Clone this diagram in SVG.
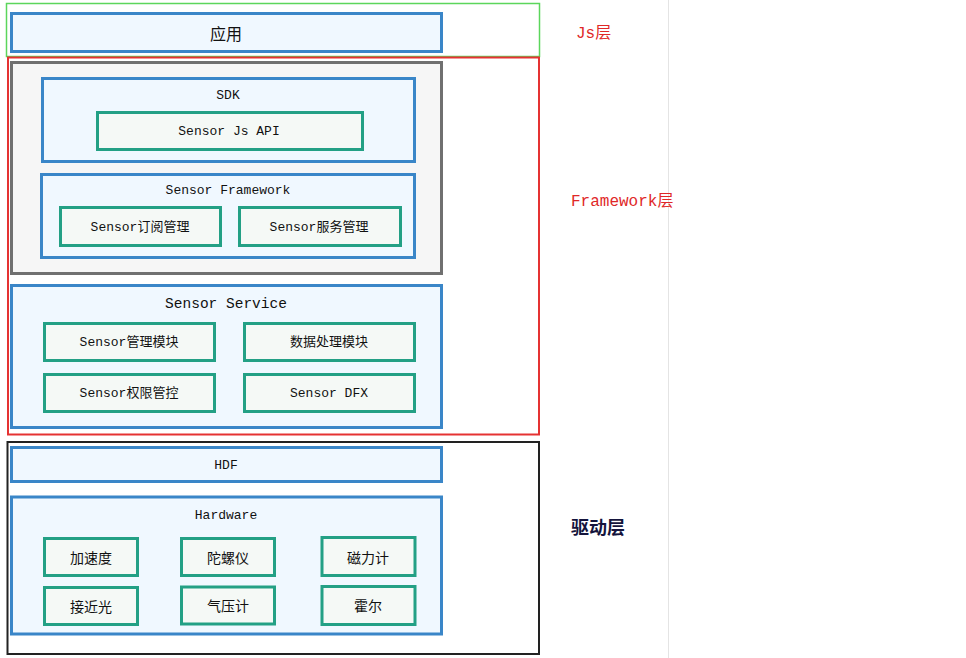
<svg xmlns="http://www.w3.org/2000/svg" width="966" height="658" viewBox="0 0 966 658">
<style>
.bg{fill:#ffffff}
.blue{fill:#f0f8ff;stroke:#3a86c8;stroke-width:3}
.teal{fill:#f5f9f6;stroke:#23a085;stroke-width:3}
.gray{fill:#f6f6f6;stroke:#707070;stroke-width:3}
.t{font-family:"Liberation Mono","Noto Sans CJK SC",monospace;font-size:13px;fill:#111;text-anchor:middle;dominant-baseline:central}
.cjk{font-family:"Noto Sans CJK SC","Liberation Sans",sans-serif;font-size:14px;fill:#111;text-anchor:middle;dominant-baseline:central}
.lbl{font-family:"Liberation Mono","Noto Sans CJK SC",monospace;font-size:16px;fill:#e02828}
</style>
<rect class="bg" x="0" y="0" width="966" height="658"/>
<line x1="668.5" y1="0" x2="668.5" y2="658" stroke="#e4e4e4" stroke-width="1"/>

<g id="layer-js">
<rect x="6.5" y="3.5" width="533" height="53" fill="none" stroke="#5cd65c" stroke-width="1.5"/>
<text class="lbl" x="576" y="38">Js层</text>
</g>
<g id="layer-framework">
<rect x="8" y="57.5" width="531" height="377" fill="none" stroke="#e53232" stroke-width="2"/>
<text class="lbl" x="571" y="206">Framework层</text>
</g>
<g id="layer-driver">
<rect x="7.5" y="442" width="531.5" height="212" fill="none" stroke="#222" stroke-width="2"/>
<text x="571" y="534" style="font-family:'Noto Sans CJK SC',sans-serif;font-size:18px;font-weight:bold;fill:#14143c">驱动层</text>
</g>

<g id="app">
<rect class="blue" x="11.5" y="13.5" width="430" height="38"/>
<text class="cjk" x="226" y="33" style="font-size:16px">应用</text>
</g>

<g id="framework-group">
<rect class="gray" x="11.5" y="62.5" width="430" height="211"/>
</g>

<g id="sdk">
<rect class="blue" x="42.5" y="78.5" width="372" height="83"/>
<text class="t" x="228" y="95">SDK</text>
</g>
<g id="sensor-js-api">
<rect class="teal" x="97.5" y="112.5" width="265" height="37"/>
<text class="t" x="229" y="131">Sensor Js API</text>
</g>

<g id="sensor-framework">
<rect class="blue" x="41.5" y="174.5" width="373" height="83"/>
<text class="t" x="228" y="190">Sensor Framework</text>
</g>
<g id="sensor-subscribe">
<rect class="teal" x="60.5" y="207.5" width="160" height="38"/>
<text class="t" x="140" y="227">Sensor订阅管理</text>
</g>
<g id="sensor-service-mgmt">
<rect class="teal" x="239.5" y="207.5" width="161" height="38"/>
<text class="t" x="319" y="227">Sensor服务管理</text>
</g>

<g id="sensor-service">
<rect class="blue" x="11.5" y="285.5" width="430" height="142"/>
<text class="t" x="226" y="304" style="font-size:14.5px">Sensor Service</text>
</g>
<g id="sensor-manage">
<rect class="teal" x="44.5" y="323.5" width="170" height="37"/>
<text class="t" x="129" y="342">Sensor管理模块</text>
</g>
<g id="data-process">
<rect class="teal" x="244.5" y="323.5" width="170" height="37"/>
<text class="t" x="329" y="342">数据处理模块</text>
</g>
<g id="sensor-permission">
<rect class="teal" x="44.5" y="374.5" width="170" height="37"/>
<text class="t" x="129" y="393">Sensor权限管控</text>
</g>
<g id="sensor-dfx">
<rect class="teal" x="244.5" y="374.5" width="170" height="37"/>
<text class="t" x="329" y="393">Sensor DFX</text>
</g>

<g id="hdf">
<rect class="blue" x="11.5" y="447.5" width="430" height="34"/>
<text class="t" x="226" y="465">HDF</text>
</g>

<g id="hardware">
<rect class="blue" x="11.5" y="497" width="430" height="137"/>
<text class="t" x="226" y="515">Hardware</text>
</g>
<g id="accel">
<rect class="teal" x="44.5" y="538.5" width="93" height="37"/>
<text class="cjk" x="91" y="557">加速度</text>
</g>
<g id="gyro">
<rect class="teal" x="181.5" y="538.5" width="93" height="37"/>
<text class="cjk" x="228" y="557">陀螺仪</text>
</g>
<g id="magnet">
<rect class="teal" x="322" y="537.5" width="93" height="38"/>
<text class="cjk" x="368" y="557">磁力计</text>
</g>
<g id="proximity">
<rect class="teal" x="44.5" y="587.5" width="93" height="37"/>
<text class="cjk" x="91" y="606">接近光</text>
</g>
<g id="barometer">
<rect class="teal" x="181.5" y="587" width="93" height="37"/>
<text class="cjk" x="228" y="605">气压计</text>
</g>
<g id="hall">
<rect class="teal" x="322" y="586.5" width="93" height="38"/>
<text class="cjk" x="368" y="605">霍尔</text>
</g>

<g id="connectors"></g>
</svg>
